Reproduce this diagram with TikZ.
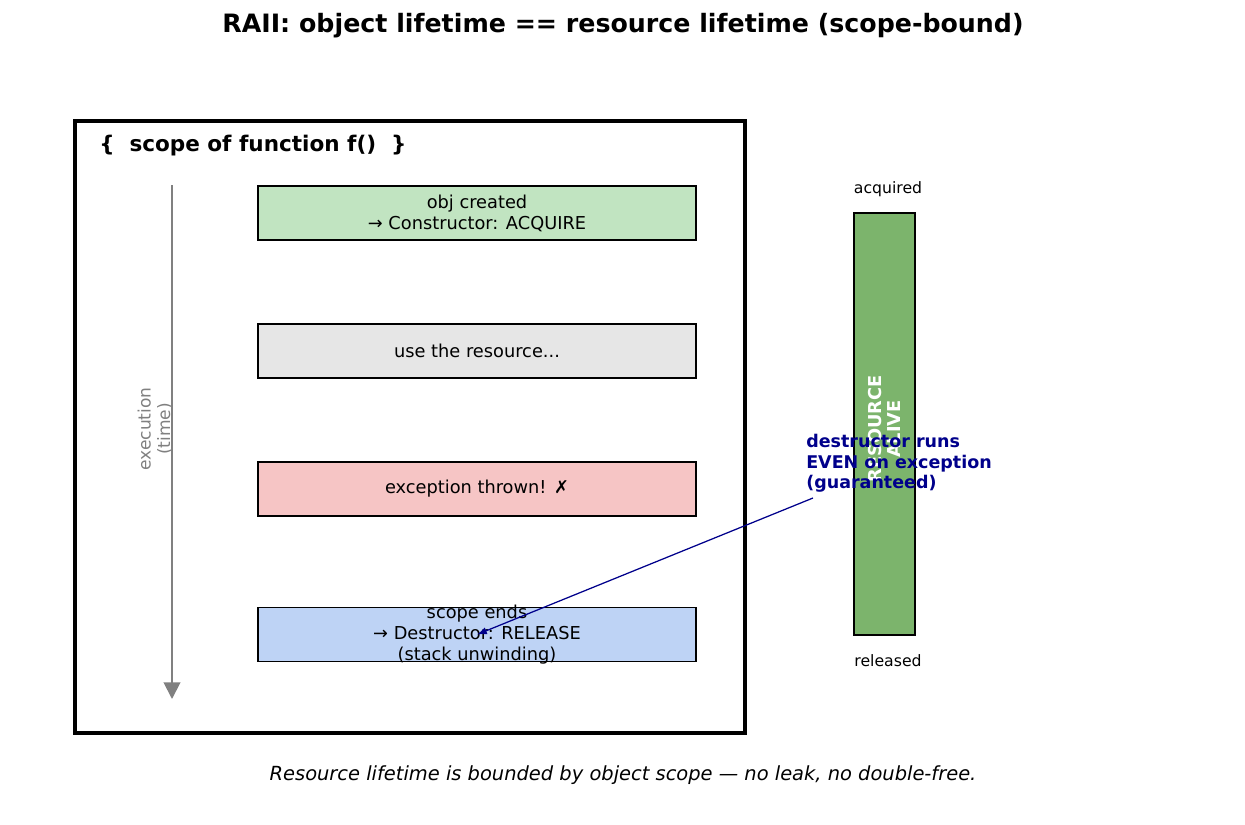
\documentclass[tikz,border=0pt]{standalone}
\usepackage{fontspec}
\setmainfont{DejaVu Sans}
\usetikzlibrary{arrows.meta,calc}

\definecolor{acqgreen}{RGB}{193,228,193}
\definecolor{usegray}{RGB}{230,230,230}
\definecolor{excred}{RGB}{246,197,197}
\definecolor{relblue}{RGB}{190,211,245}
\definecolor{alivegreen}{RGB}{124,180,108}
\definecolor{notenavy}{RGB}{0,0,139}

\tikzset{
  stepbox/.style={draw, line width=1.1pt, minimum width=315.4pt, minimum height=38.9pt,
    align=center, inner sep=0pt, font=\fontsize{12.8}{15.2}\selectfont},
}

\begin{document}
\begin{tikzpicture}[x=0.72pt, y=-0.72pt, >=Latex]
\useasboundingbox (0,0) rectangle (1245,825);

% title and footer
\node (title) at (623,26) {\fontsize{18.2}{21}\selectfont\bfseries RAII: object lifetime == resource lifetime (scope-bound)};
\node (footer) at (623,775) {\fontsize{14}{17}\selectfont\itshape Resource lifetime is bounded by object scope — no leak, no double-free.};

% scope of f()
\node[draw, line width=2.2pt, minimum width=482.4pt, minimum height=440.6pt, inner sep=0pt] (scopebox) at (410,427) {};
\node[anchor=west, inner sep=0pt] (scopelbl) at (99,146) {\fontsize{15.5}{18}\selectfont\bfseries \{\ \ scope of function f()\ \ \}};

% steps
\node[stepbox, fill=acqgreen] (acquire) at (477,213) {obj created\\→ Constructor: ACQUIRE};
\node[stepbox, fill=usegray] (use) at (477,351) {use the resource...};
\node[stepbox, fill=excred] (throw) at (477,489) {exception thrown! ✗};
\node[stepbox, fill=relblue] (release) at (477,634.5) {};
\node[align=center, inner sep=0pt, font=\fontsize{12.8}{15.2}\selectfont] (releaselbl) at (release.center) {scope ends\\→ Destructor: RELEASE\\(stack unwinding)};

% time axis
\coordinate (tstart) at (172,185);
\coordinate (tend) at (172,699);
\draw[gray, line width=1.4pt, -{Triangle[length=12pt,width=12pt]}] (tstart) -- (tend);
\node[gray, rotate=90, align=center, font=\fontsize{12.3}{14}\selectfont] (timelbl) at (155,429) {execution\\(time)};

% resource bar
\node[draw, line width=1.1pt, fill=alivegreen, minimum width=43.9pt, minimum height=303.8pt, inner sep=0pt] (alive) at (884.5,424) {};
\node[white, rotate=90, align=center, font=\fontsize{12.8}{14}\selectfont\bfseries] (alivelbl) at (884.5,429) {RESOURCE\\ALIVE};
\node[font=\fontsize{11.3}{13}\selectfont] (acq) at (888,189) {acquired};
\node[font=\fontsize{11.3}{13}\selectfont] (rel) at (888,661) {released};

% annotation
\node[notenavy, anchor=north west, align=left, inner sep=0pt, font=\fontsize{12.6}{14.8}\selectfont\bfseries] (note) at (806,434) {destructor runs\\EVEN on exception\\(guaranteed)};
\coordinate (notetail) at (813,498);
\draw[->, notenavy, line width=0.9pt] (notetail) -- (release.center);
\end{tikzpicture}
\end{document}
